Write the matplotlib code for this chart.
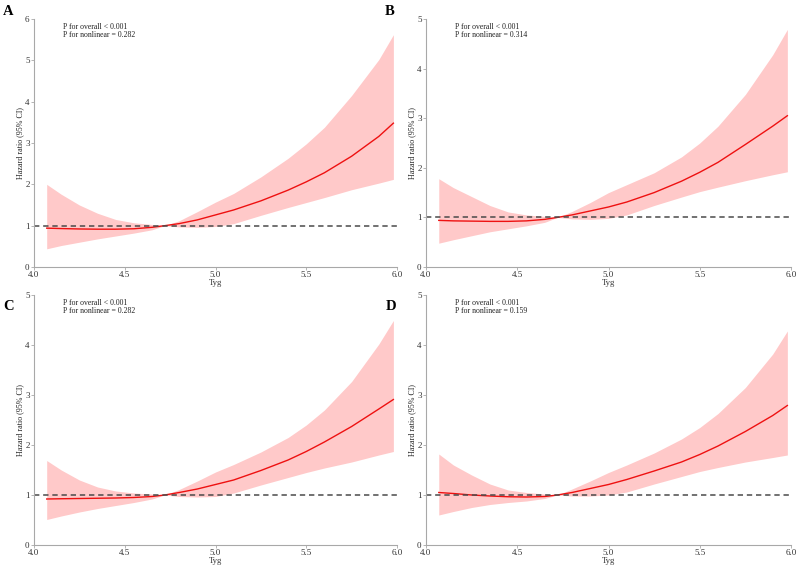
import matplotlib
matplotlib.use("Agg")
import matplotlib.pyplot as plt

plt.rcParams['font.family'] = ['Liberation Serif', 'DejaVu Serif']

tyg = [4.07, 4.15, 4.25, 4.35, 4.45, 4.55, 4.65, 4.72, 4.8, 4.9, 5.0, 5.1, 5.25, 5.4, 5.5, 5.6, 5.75, 5.9, 5.98]

a_est = [0.94, 0.93, 0.92, 0.915, 0.915, 0.925, 0.96, 1.0, 1.05, 1.14, 1.26, 1.38, 1.60, 1.86, 2.06, 2.28, 2.68, 3.16, 3.48]
a_lo = [0.44, 0.52, 0.60, 0.68, 0.75, 0.82, 0.90, 1.0, 0.97, 0.96, 0.98, 1.05, 1.25, 1.44, 1.56, 1.68, 1.87, 2.03, 2.12]
a_hi = [2.0, 1.76, 1.50, 1.30, 1.15, 1.07, 1.03, 1.0, 1.12, 1.34, 1.57, 1.78, 2.18, 2.63, 2.98, 3.38, 4.15, 5.02, 5.62]

b_est = [0.94, 0.93, 0.925, 0.92, 0.92, 0.93, 0.96, 1.0, 1.05, 1.13, 1.21, 1.31, 1.50, 1.73, 1.91, 2.11, 2.47, 2.84, 3.05]
b_lo = [0.48, 0.55, 0.63, 0.71, 0.77, 0.83, 0.90, 1.0, 0.97, 0.96, 0.98, 1.05, 1.24, 1.41, 1.52, 1.61, 1.74, 1.86, 1.92]
b_hi = [1.78, 1.60, 1.42, 1.24, 1.11, 1.05, 1.02, 1.0, 1.12, 1.30, 1.50, 1.66, 1.90, 2.22, 2.50, 2.84, 3.48, 4.28, 4.79]

c_est = [0.92, 0.925, 0.93, 0.935, 0.94, 0.95, 0.97, 1.0, 1.05, 1.12, 1.21, 1.30, 1.49, 1.70, 1.87, 2.06, 2.37, 2.72, 2.91]
c_lo = [0.51, 0.58, 0.66, 0.73, 0.79, 0.85, 0.92, 1.0, 0.97, 0.96, 0.97, 1.04, 1.20, 1.35, 1.45, 1.54, 1.66, 1.80, 1.87]
c_hi = [1.69, 1.50, 1.30, 1.16, 1.08, 1.04, 1.02, 1.0, 1.11, 1.28, 1.46, 1.61, 1.86, 2.15, 2.40, 2.70, 3.27, 4.02, 4.49]

d_est = [1.05, 1.03, 1.00, 0.98, 0.965, 0.96, 0.97, 1.0, 1.05, 1.13, 1.21, 1.31, 1.48, 1.66, 1.81, 1.98, 2.27, 2.59, 2.79]
d_lo = [0.60, 0.67, 0.75, 0.81, 0.85, 0.88, 0.93, 1.0, 0.98, 0.98, 1.0, 1.06, 1.22, 1.37, 1.47, 1.55, 1.66, 1.75, 1.80]
d_hi = [1.82, 1.60, 1.40, 1.22, 1.10, 1.05, 1.02, 1.0, 1.12, 1.28, 1.45, 1.60, 1.84, 2.12, 2.35, 2.63, 3.15, 3.82, 4.28]

panel_letters = ["A", "B", "C", "D"]
p_nonlinear = ["0.282", "0.314", "0.282", "0.159"]
y_max = [6, 5, 5, 5]
x_ticks = [4.0, 4.5, 5.0, 5.5, 6.0]

W, H = 798, 566
fig = plt.figure(figsize=(W / 100, H / 100), dpi=100)

# axes boxes in pixels: left, right, top, bottom
boxes = [(34, 397, 19, 267), (426, 791, 19, 267), (34, 397, 295, 545), (426, 791, 295, 545)]
series = [(a_est, a_lo, a_hi), (b_est, b_lo, b_hi), (c_est, c_lo, c_hi), (d_est, d_lo, d_hi)]
letter_pos = [(3, 5), (385, 5), (3, 300), (386, 300)]

spine_col = "#a8a8a8"
for i in range(4):
    l, r, t, b = boxes[i]
    ax = fig.add_axes([l / W, 1 - b / H, (r - l) / W, (b - t) / H])
    est, lo, hi = series[i]
    ax.fill_between(tyg, lo, hi, color="#ffc9c9", linewidth=0)
    ax.plot(tyg, est, color="#ee1111", linewidth=1.0)
    ax.axhline(1, color="#4a4a4a", linestyle=(0, (3.5, 2.5)), linewidth=1.1)
    ax.set_xlim(4.0, 6.0)
    ax.set_ylim(0, y_max[i])
    ax.set_xticks(x_ticks)
    ax.set_xticklabels([f"{v:.1f}" for v in x_ticks])
    ax.set_yticks(range(0, y_max[i] + 1))
    for s in ["top", "right"]:
        ax.spines[s].set_visible(False)
    for s in ["left", "bottom"]:
        ax.spines[s].set_color(spine_col)
        ax.spines[s].set_linewidth(0.8)
    ax.tick_params(axis="both", length=2, width=0.6, color=spine_col,
                   labelsize=6.5, labelcolor="#333333", pad=1.2)
    ax.set_xlabel("Tyg", fontsize=6.3, color="#333333", labelpad=0)
    ax.set_ylabel("Hazard ratio (95% CI)", fontsize=5.8, color="#222222", labelpad=0.5)
    ax.text(0.08, 0.985, "P for overall < 0.001\nP for nonlinear = " + p_nonlinear[i],
            transform=ax.transAxes, ha="left", va="top", fontsize=5.6,
            color="#222222", linespacing=1.05)
    lx, ly = letter_pos[i]
    fig.text(lx / W, 1 - ly / H, panel_letters[i], ha="left", va="top",
             fontsize=10.5, fontweight="bold", color="black")

fig.savefig("out.png", dpi=100)
